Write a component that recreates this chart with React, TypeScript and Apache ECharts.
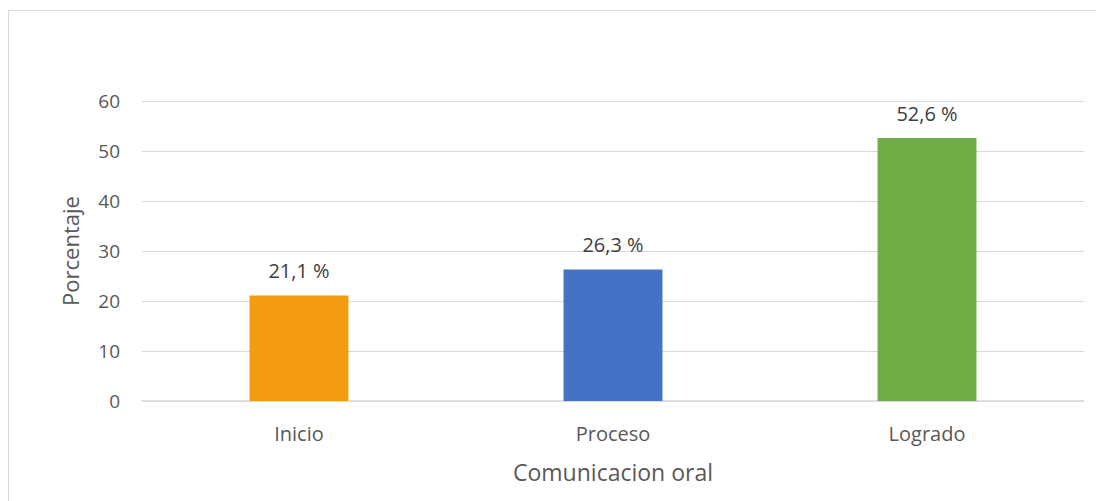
import React, { useEffect, useRef } from "react";
import * as echarts from "echarts";

const categories = ["Inicio", "Proceso", "Logrado"];
const values = [21.1, 26.3, 52.6];
const colors = ["#F39C12", "#4472C4", "#70AD47"];
const labels = ["21,1 %", "26,3 %", "52,6 %"];

export default function App() {
  const ref = useRef<HTMLDivElement>(null);
  useEffect(() => {
    if (!ref.current) return;
    const chart = echarts.init(ref.current, undefined, { renderer: "svg" });
    const font = "Open Sans, Lato, sans-serif";
    chart.setOption({
      animation: false,
      grid: { left: 133, right: 33, top: 90, bottom: 108 },
      xAxis: {
        type: "category",
        data: categories,
        name: "Comunicacion oral",
        nameLocation: "middle",
        nameGap: 59,
        nameTextStyle: { color: "#595959", fontSize: 23, fontFamily: font },
        axisLine: { lineStyle: { color: "#d9d9d9", width: 1.5 } },
        axisTick: { show: false },
        axisLabel: { color: "#595959", fontSize: 20, fontFamily: font, margin: 22 },
      },
      yAxis: {
        type: "value",
        min: 0,
        max: 60,
        interval: 10,
        name: "Porcentaje",
        nameLocation: "middle",
        nameGap: 61,
        nameTextStyle: { color: "#595959", fontSize: 22, fontFamily: font },
        axisLabel: { color: "#595959", fontSize: 19, fontFamily: font, margin: 22 },
        splitLine: { lineStyle: { color: "#d9d9d9", width: 1 } },
        axisLine: { show: false },
      },
      series: [
        {
          type: "bar",
          barWidth: "31.5%",
          data: values.map((v, i) => ({ value: v, itemStyle: { color: colors[i] } })),
          label: {
            show: true,
            position: "top",
            distance: 15,
            color: "#404040",
            fontSize: 20,
            fontFamily: font,
            formatter: (p: any) => labels[p.dataIndex],
          },
        },
      ],
    });
    return () => chart.dispose();
  }, []);
  return (
    <div
      ref={ref}
      style={{
        width: 1110,
        height: 500,
        marginTop: 2,
        border: "1.5px solid #d9d9d9",
        boxSizing: "border-box",
      }}
    />
  );
}
